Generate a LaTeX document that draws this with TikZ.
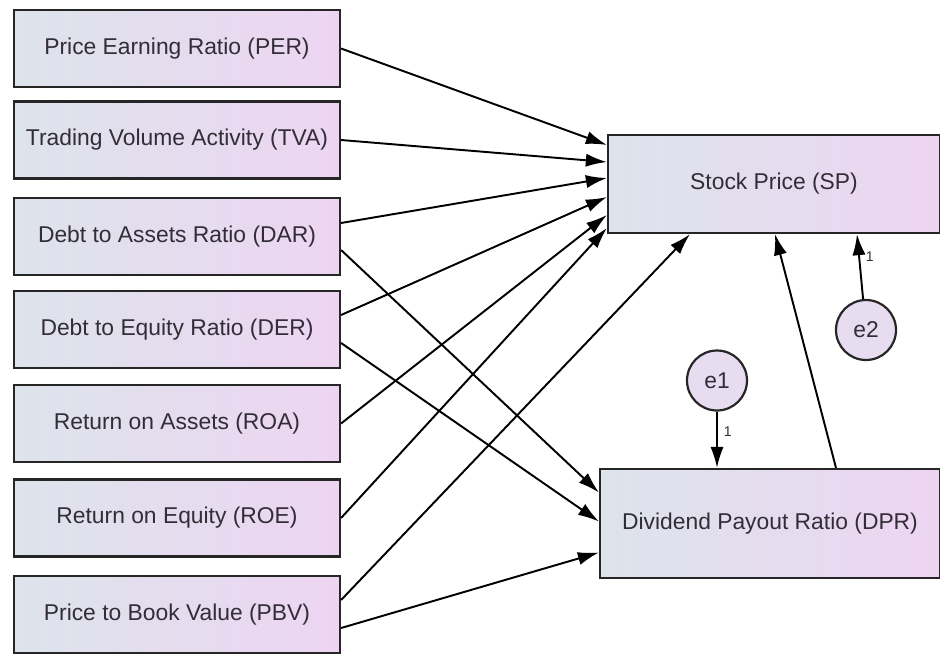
\documentclass[tikz,border=0pt]{standalone}
\usepackage{fontspec}
\setmainfont{Liberation Sans}
\usetikzlibrary{arrows.meta, positioning, calc}
\usepackage{xcolor}
\definecolor{boxleft}{RGB}{221,228,235}
\definecolor{boxright}{RGB}{237,213,242}
\definecolor{errfill}{RGB}{232,220,240}
\definecolor{inktext}{RGB}{50,45,55}
\tikzset{%
	every factor/.style={
		rectangle,
		draw=black!85,
		line width=1.25pt,
		left color=boxleft,
		right color=boxright,
		text=inktext,
		font=\fontsize{13}{15}\selectfont
	},
	left factor/.style={
		every factor,
		minimum width=6.52cm,
		minimum height=1.54cm
	},
	error term/.style={
		circle,
		draw=black!85,
		line width=1.25pt,
		fill=errfill,
		minimum size=1.2cm,
		text=inktext,
		font=\fontsize{13}{15}\selectfont
	},
	path line/.style={-{Latex[length=12pt,width=7.5pt]}, line width=1.1pt},
	weight/.style={font=\fontsize{8}{9}\selectfont, text=inktext},
}

\begin{document}
\begin{tikzpicture}[x=0.02cm, y=-0.02cm]
			\useasboundingbox (0,0) rectangle (940,653);
			
			% Draw the predictors
			\node[left factor] (per) at (177,48.5) {Price Earning Ratio (PER)};
			\node[left factor] (tva) at (177,140) {Trading Volume Activity (TVA)};
			\node[left factor] (dar) at (177,236.5) {Debt to Assets Ratio (DAR)};
			\node[left factor] (der) at (177,329.5) {Debt to Equity Ratio (DER)};
			\node[left factor] (roa) at (177,423.5) {Return on Assets (ROA)};
			\node[left factor] (roe) at (177,518) {Return on Equity (ROE)};
			\node[left factor] (pbv) at (177,614.5) {Price to Book Value (PBV)};
			
			% Draw the outcomes
			\node[every factor, minimum width=6.64cm, minimum height=1.96cm] (sp) at (774,184) {Stock Price (SP)};
			\node[every factor, minimum width=6.8cm, minimum height=2.18cm] (dpr) at (770,523.5) {Dividend Payout Ratio (DPR)};
			
			% Draw the error terms
			\node[error term] (e1) at (717,380.5) {e1};
			\node[error term] (e2) at (866,330) {e2};
			
			% Draw the paths to SP
			\draw[path line] (per.east) -- ($(sp.west)+(0,-39)$);
			\draw[path line] (tva.east) -- ($(sp.west)+(0,-22)$);
			\draw[path line] ($(dar.east)+(0,-13.5)$) -- ($(sp.west)+(0,-6)$);
			\draw[path line] ($(der.east)+(0,-14.5)$) -- ($(sp.west)+(0,13)$);
			\draw[path line] (roa.east) -- ($(sp.west)+(0,31)$);
			\draw[path line] (roe.east) -- ($(sp.west)+(0,44)$);
			\draw[path line] ($(pbv.east)+(0,-14.5)$) -- ($(sp.south)+(-84,0)$);
			
			% Draw the paths to DPR
			\draw[path line] ($(dar.east)+(0,13.5)$) -- ($(dpr.west)+(0,-31)$);
			\draw[path line] ($(der.east)+(0,13.5)$) -- ($(dpr.west)+(0,-2)$);
			\draw[path line] ($(pbv.east)+(0,13.5)$) -- ($(dpr.west)+(0,29)$);
			
			% Draw DPR to SP and the errors
			\draw[path line] ($(dpr.north)+(66,0)$) -- ($(sp.south)+(1,0)$);
			\draw[path line] (e1) -- node[weight, right, pos=0.35] {1} (e1 |- dpr.north);
			\draw[path line] (e2) -- node[weight, right, pos=0.66] {1} ($(sp.south)+(83,0)$);

		\end{tikzpicture}
\end{document}
